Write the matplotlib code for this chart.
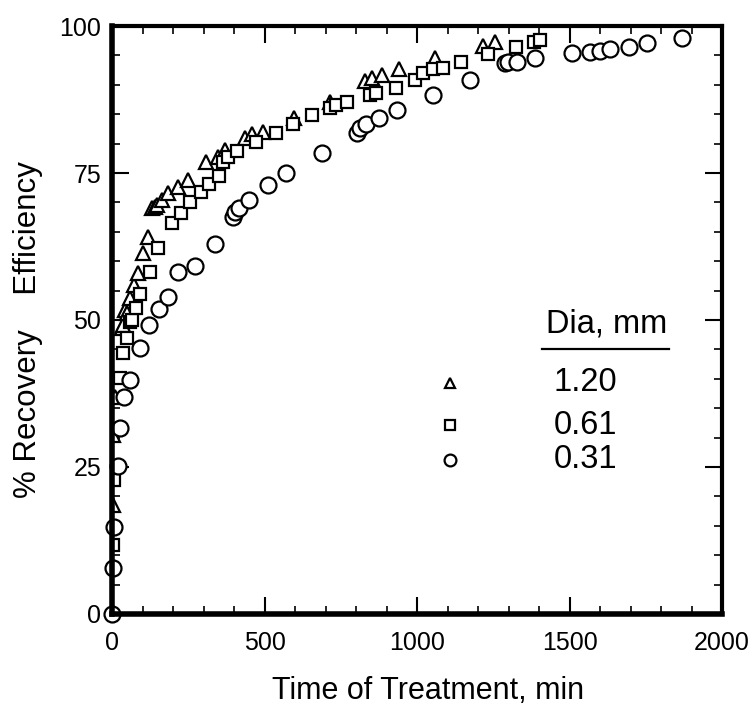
import numpy as np
import matplotlib
matplotlib.use('Agg')
import matplotlib.pyplot as plt
from matplotlib.ticker import MultipleLocator

plt.rcParams['font.family'] = ['Liberation Sans', 'DejaVu Sans']

# Dia 1.20 mm (triangles)
t_120 = [3, 3, 10, 33, 36, 43, 49, 59, 72, 85, 102, 118, 131, 141, 148, 164, 184, 216, 249,
         308, 348, 370, 436, 459, 495, 597, 715, 830, 852, 885, 941, 1059, 1216, 1256]
r_120 = [18.5, 30.4, 36.9, 48.6, 49.1, 51.7, 51.2, 53.7, 56.0, 58.0, 61.4, 64.1, 69.0, 69.3, 69.6, 70.4, 71.6, 72.6, 73.8,
         76.8, 77.7, 78.9, 81.0, 81.6, 81.9, 84.4, 87.0, 90.6, 91.2, 91.7, 92.7, 94.6, 96.6, 97.3]

# Dia 0.61 mm (squares)
t_061 = [1, 6, 26, 36, 48, 59, 66, 77, 92, 125, 151, 197, 226, 256, 292, 318, 350, 364, 380, 408,
         470, 536, 593, 654, 713, 735, 770, 846, 864, 931, 993, 1020, 1052, 1085, 1144, 1233, 1325, 1384, 1403]
r_061 = [11.7, 22.8, 40.1, 44.4, 46.9, 49.7, 50.0, 52.1, 54.4, 58.2, 62.2, 66.5, 68.2, 70.1, 71.8, 73.2, 74.5, 76.9, 77.7, 78.7,
         80.3, 81.8, 83.3, 84.8, 86.0, 86.6, 87.1, 88.3, 88.6, 89.5, 90.8, 92.0, 92.7, 92.9, 93.9, 95.2, 96.4, 97.3, 97.6]

# Dia 0.31 mm (circles)
t_031 = [0, 3, 5, 18, 27, 40, 59, 92, 120, 152, 182, 216, 273, 338, 397, 403, 416, 449, 511, 570,
         689, 803, 813, 833, 875, 934, 1052, 1174, 1289, 1298, 1328, 1387, 1508, 1567, 1600, 1633, 1695, 1754, 1869]
r_031 = [0, 7.8, 14.8, 25.2, 31.6, 36.9, 39.8, 45.2, 49.1, 51.9, 53.9, 58.1, 59.1, 63.0, 67.5, 68.4, 69.0, 70.4, 73.0, 75.0,
         78.4, 81.8, 82.7, 83.3, 84.4, 85.7, 88.3, 90.8, 93.7, 93.9, 93.9, 94.6, 95.4, 95.6, 95.7, 96.1, 96.4, 97.1, 98.0]

legend_labels = ['1.20', '0.61', '0.31']
legend_markers = ['^', 's', 'o']

fig = plt.figure(figsize=(7.53, 7.17), dpi=100)
ax = fig.add_axes([0.149, 0.1437, 0.81, 0.82])

style = dict(linestyle='none', markerfacecolor='white', markeredgecolor='black', markeredgewidth=1.6)
ax.plot(t_120, r_120, marker='^', markersize=10.5, **style)
ax.plot(t_061, r_061, marker='s', markersize=8.5, **style)
ax.plot(t_031, r_031, marker='o', markersize=11.5, clip_on=False, **style)

# hand-made legend like the original
leg_y = [39.3, 32.1, 26.2]
leg_sizes = [7, 6.5, 8.5]
for y, m, s, lab in zip(leg_y, legend_markers, leg_sizes, legend_labels):
    ax.plot([1108], [y], marker=m, markersize=s, **style)
    ax.text(1553, y, lab, fontsize=23.5, ha='center', va='center')
ax.text(1620, 49.3, 'Dia, mm', fontsize=23.5, ha='center', va='center')
ax.plot([1410, 1826], [45.0, 45.0], color='black', linewidth=1.6)

ax.set_xlim(0, 2000)
ax.set_ylim(0, 100)
ax.xaxis.set_major_locator(MultipleLocator(500))
ax.xaxis.set_minor_locator(MultipleLocator(100))
ax.yaxis.set_major_locator(MultipleLocator(25))
ax.yaxis.set_minor_locator(MultipleLocator(5))
ax.tick_params(which='both', direction='in', top=True, right=True, labelsize=18)
ax.tick_params(which='major', length=12, width=1.5)
ax.tick_params(which='minor', length=6, width=1.2)
ax.tick_params(axis='x', pad=12)
ax.tick_params(axis='y', pad=8)

for side in ['left', 'bottom']:
    ax.spines[side].set_linewidth(4)
for side in ['top', 'right']:
    ax.spines[side].set_linewidth(3)

ax.set_xlabel('Time of Treatment, min', fontsize=22)
ax.set_ylabel('% Recovery    Efficiency', fontsize=22.5)
ax.xaxis.set_label_coords(0.518, -0.105)
ax.yaxis.set_label_coords(-0.114, 0.483)

fig.savefig('out.png', dpi=100)
